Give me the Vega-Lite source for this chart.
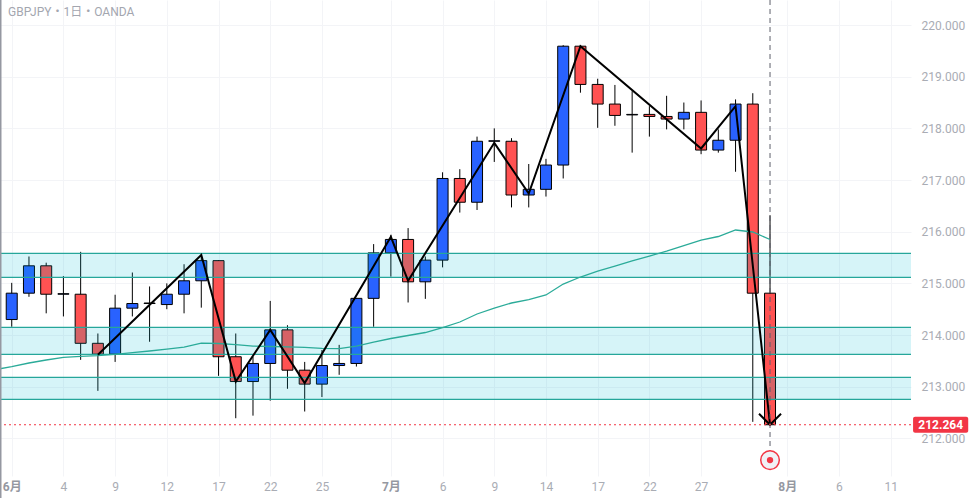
{
  "$schema": "https://vega.github.io/schema/vega-lite/v6.json",
  "width": 911,
  "height": 476,
  "autosize": {"type": "none"},
  "padding": {"left": 0, "top": 0, "right": 60, "bottom": 22},
  "background": "#ffffff",
  "title": {"text": "GBPJPY・1日・OANDA", "anchor": "start", "frame": "group", "orient": "top", "offset": -20, "dx": 8, "fontSize": 12, "fontWeight": "normal", "color": "#a3a6af", "font": "Roboto, Noto Sans CJK JP"},
  "config": {"view": {"stroke": null}, "font": "Roboto, Noto Sans CJK JP"},
  "datasets": {
    "candles": [
      {"i": 0, "o": 214.30, "h": 215.01, "l": 214.16, "c": 214.81},
      {"i": 1, "o": 214.81, "h": 215.52, "l": 214.74, "c": 215.34},
      {"i": 2, "o": 215.34, "h": 215.40, "l": 214.42, "c": 214.79},
      {"i": 3, "o": 214.79, "h": 215.14, "l": 214.36, "c": 214.80},
      {"i": 4, "o": 214.79, "h": 215.61, "l": 213.52, "c": 213.84},
      {"i": 5, "o": 213.84, "h": 214.03, "l": 212.92, "c": 213.63},
      {"i": 6, "o": 213.63, "h": 214.78, "l": 213.48, "c": 214.52},
      {"i": 7, "o": 214.52, "h": 215.21, "l": 214.36, "c": 214.61},
      {"i": 8, "o": 214.61, "h": 214.94, "l": 213.87, "c": 214.62},
      {"i": 9, "o": 214.59, "h": 215.00, "l": 214.50, "c": 214.79},
      {"i": 10, "o": 214.79, "h": 215.37, "l": 214.42, "c": 215.05},
      {"i": 11, "o": 215.05, "h": 215.55, "l": 214.53, "c": 215.44},
      {"i": 12, "o": 215.44, "h": 215.45, "l": 213.21, "c": 213.58},
      {"i": 13, "o": 213.58, "h": 214.03, "l": 212.39, "c": 213.10},
      {"i": 14, "o": 213.10, "h": 213.58, "l": 212.44, "c": 213.45},
      {"i": 15, "o": 213.45, "h": 214.66, "l": 212.73, "c": 214.10},
      {"i": 16, "o": 214.10, "h": 214.19, "l": 212.96, "c": 213.32},
      {"i": 17, "o": 213.32, "h": 213.48, "l": 212.52, "c": 213.05},
      {"i": 18, "o": 213.05, "h": 213.71, "l": 212.80, "c": 213.41},
      {"i": 19, "o": 213.41, "h": 213.81, "l": 213.23, "c": 213.45},
      {"i": 20, "o": 213.45, "h": 214.71, "l": 213.39, "c": 214.71},
      {"i": 21, "o": 214.71, "h": 215.76, "l": 214.16, "c": 215.59},
      {"i": 22, "o": 215.59, "h": 215.94, "l": 215.13, "c": 215.85},
      {"i": 23, "o": 215.85, "h": 216.07, "l": 214.63, "c": 215.03},
      {"i": 24, "o": 215.03, "h": 215.52, "l": 214.70, "c": 215.45},
      {"i": 25, "o": 215.45, "h": 217.15, "l": 215.31, "c": 217.03},
      {"i": 26, "o": 217.03, "h": 217.21, "l": 216.37, "c": 216.57},
      {"i": 27, "o": 216.57, "h": 217.84, "l": 216.42, "c": 217.75},
      {"i": 28, "o": 217.75, "h": 218.00, "l": 217.35, "c": 217.76},
      {"i": 29, "o": 217.75, "h": 217.81, "l": 216.47, "c": 216.71},
      {"i": 30, "o": 216.71, "h": 217.31, "l": 216.47, "c": 216.82},
      {"i": 31, "o": 216.82, "h": 217.41, "l": 216.68, "c": 217.29},
      {"i": 32, "o": 217.29, "h": 219.61, "l": 217.03, "c": 219.59},
      {"i": 33, "o": 219.59, "h": 219.60, "l": 218.69, "c": 218.85},
      {"i": 34, "o": 218.85, "h": 218.96, "l": 218.01, "c": 218.47},
      {"i": 35, "o": 218.47, "h": 218.84, "l": 218.05, "c": 218.25},
      {"i": 36, "o": 218.26, "h": 218.72, "l": 217.53, "c": 218.27},
      {"i": 37, "o": 218.27, "h": 218.43, "l": 217.84, "c": 218.23},
      {"i": 38, "o": 218.23, "h": 218.63, "l": 217.98, "c": 218.18},
      {"i": 39, "o": 218.18, "h": 218.50, "l": 217.98, "c": 218.31},
      {"i": 40, "o": 218.31, "h": 218.54, "l": 217.50, "c": 217.58},
      {"i": 41, "o": 217.58, "h": 217.98, "l": 217.53, "c": 217.77},
      {"i": 42, "o": 217.77, "h": 218.56, "l": 217.16, "c": 218.47},
      {"i": 43, "o": 218.47, "h": 218.68, "l": 212.32, "c": 214.81},
      {"i": 44, "o": 214.81, "h": 216.32, "l": 212.24, "c": 212.264}
    ],
    "ma": [
      {"i": -1, "v": 213.33},
      {"i": 0, "v": 213.387}, {"i": 1, "v": 213.459}, {"i": 2, "v": 213.517}, {"i": 3, "v": 213.569},
      {"i": 4, "v": 213.588}, {"i": 5, "v": 213.600}, {"i": 6, "v": 213.627}, {"i": 7, "v": 213.658},
      {"i": 8, "v": 213.691}, {"i": 9, "v": 213.729}, {"i": 10, "v": 213.768}, {"i": 11, "v": 213.845},
      {"i": 12, "v": 213.836}, {"i": 13, "v": 213.813}, {"i": 14, "v": 213.787}, {"i": 15, "v": 213.778},
      {"i": 16, "v": 213.772}, {"i": 17, "v": 213.762}, {"i": 18, "v": 213.743}, {"i": 19, "v": 213.739},
      {"i": 20, "v": 213.787}, {"i": 21, "v": 213.865}, {"i": 22, "v": 213.933}, {"i": 23, "v": 213.991},
      {"i": 24, "v": 214.049}, {"i": 25, "v": 214.145}, {"i": 26, "v": 214.252}, {"i": 27, "v": 214.407},
      {"i": 28, "v": 214.523}, {"i": 29, "v": 214.620}, {"i": 30, "v": 214.687}, {"i": 31, "v": 214.775},
      {"i": 32, "v": 214.987}, {"i": 33, "v": 215.123}, {"i": 34, "v": 215.239}, {"i": 35, "v": 215.336},
      {"i": 36, "v": 215.433}, {"i": 37, "v": 215.529}, {"i": 38, "v": 215.626}, {"i": 39, "v": 215.732},
      {"i": 40, "v": 215.839}, {"i": 41, "v": 215.907}, {"i": 42, "v": 216.033}, {"i": 43, "v": 215.994},
      {"i": 44, "v": 215.849}
    ],
    "zz": [
      {"i": 5, "v": 213.62}, {"i": 11, "v": 215.55}, {"i": 13, "v": 213.10}, {"i": 15, "v": 214.10},
      {"i": 17, "v": 213.07}, {"i": 22, "v": 215.90}, {"i": 23, "v": 215.05}, {"i": 28, "v": 217.72},
      {"i": 30, "v": 216.74}, {"i": 33, "v": 219.59}, {"i": 40, "v": 217.61}, {"i": 42, "v": 218.43},
      {"i": 44, "v": 212.264}
    ],
    "bands": [
      {"top": 215.582, "bot": 215.117},
      {"top": 214.149, "bot": 213.627},
      {"top": 213.182, "bot": 212.756}
    ],
    "one": [{}]
  },
  "layer": [
    {
      "data": {"name": "candles"},
      "mark": {"type": "rule", "color": "#000000", "strokeWidth": 1},
      "encoding": {
        "x": {"field": "i", "type": "quantitative", "scale": {"domain": [-0.68, 52.18], "nice": false, "zero": false, "padding": 0},
          "axis": {"values": [0, 3, 6, 9, 12, 15, 18, 22, 25, 28, 31, 34, 37, 40, 45, 48, 51],
            "labelExpr": "['6月','','','4','','','9','','','12','','','17','','','22','','','25','','','','7月','','','6','','','9','','','14','','','17','','','22','','','27','','','','','8月','','','6','','','11'][datum.value]",
            "title": null, "ticks": false, "tickSize": 0, "domain": false, "labelFlush": false, "labelOverlap": false,
            "labelPadding": 5, "labelColor": {"condition": {"test": "datum.value == 0 || datum.value == 22 || datum.value == 45", "value": "#9598a1"}, "value": "#a9acb4"},
            "labelFontSize": 12,
            "labelFontWeight": {"condition": {"test": "datum.value == 0 || datum.value == 22 || datum.value == 45", "value": "bold"}, "value": "normal"},
            "grid": true, "gridColor": "#f3f4f7"}},
        "y": {"field": "l", "type": "quantitative", "scale": {"domain": [211.272, 220.484], "nice": false, "zero": false, "padding": 0},
          "axis": {"orient": "right", "values": [212, 213, 214, 215, 216, 217, 218, 219, 220], "format": ".3f", "title": null,
            "ticks": false, "tickSize": 0, "domain": false, "labelPadding": 10, "labelColor": "#a9acb4", "labelFontSize": 12,
            "labelAlign": "left", "grid": true, "gridColor": "#f3f4f7"}},
        "y2": {"field": "h"}
      }
    },
    {
      "data": {"name": "candles"},
      "mark": {"type": "bar", "size": 11, "stroke": "#000000", "strokeWidth": 1},
      "encoding": {
        "x": {"field": "i", "type": "quantitative"},
        "y": {"field": "o", "type": "quantitative"},
        "y2": {"field": "c"},
        "color": {"condition": {"test": "datum.c >= datum.o", "value": "#2962ff"}, "value": "#ff5252"}
      }
    },
    {
      "data": {"name": "bands"},
      "mark": {"type": "rect", "color": "#00bcd4", "opacity": 0.16},
      "encoding": {
        "y": {"field": "top", "type": "quantitative"},
        "y2": {"field": "bot"}
      }
    },
    {
      "data": {"name": "bands"},
      "mark": {"type": "rule", "color": "#26a69a", "strokeWidth": 1.3},
      "encoding": {"y": {"field": "top", "type": "quantitative"}}
    },
    {
      "data": {"name": "bands"},
      "mark": {"type": "rule", "color": "#26a69a", "strokeWidth": 1.3},
      "encoding": {"y": {"field": "bot", "type": "quantitative"}}
    },
    {
      "data": {"name": "ma"},
      "mark": {"type": "line", "color": "#2bab99", "strokeWidth": 1.3, "clip": true},
      "encoding": {
        "x": {"field": "i", "type": "quantitative"},
        "y": {"field": "v", "type": "quantitative"}
      }
    },
    {
      "data": {"name": "zz"},
      "mark": {"type": "line", "color": "#000000", "strokeWidth": 2},
      "encoding": {
        "x": {"field": "i", "type": "quantitative"},
        "y": {"field": "v", "type": "quantitative"}
      }
    },
    {
      "data": {"values": [{"i": 44, "v": 212.264}]},
      "mark": {"type": "point", "shape": "M-1,-1L0,0L1,-1", "filled": false, "stroke": "#000000", "strokeWidth": 2, "size": 484, "opacity": 1},
      "encoding": {
        "x": {"field": "i", "type": "quantitative"},
        "y": {"field": "v", "type": "quantitative"}
      }
    },
    {
      "data": {"name": "one"},
      "mark": {"type": "rule", "color": "#5d606b", "strokeWidth": 1, "strokeDash": [5, 4]},
      "encoding": {
        "x": {"datum": 44, "type": "quantitative"},
        "y": {"datum": 220.484, "type": "quantitative"},
        "y2": {"datum": 211.6}
      }
    },
    {
      "data": {"name": "one"},
      "mark": {"type": "rule", "color": "#f23645", "strokeWidth": 1, "strokeDash": [2, 3]},
      "encoding": {"y": {"datum": 212.264, "type": "quantitative"}}
    },
    {
      "data": {"name": "one"},
      "mark": {"type": "point", "shape": "circle", "filled": true, "fill": "#f1f1f6", "stroke": "#f23645", "strokeWidth": 1.5, "size": 346, "opacity": 1},
      "encoding": {
        "x": {"datum": 44, "type": "quantitative"},
        "y": {"datum": 211.58, "type": "quantitative"}
      }
    },
    {
      "data": {"name": "one"},
      "mark": {"type": "point", "shape": "circle", "filled": true, "color": "#f23645", "size": 40, "opacity": 1},
      "encoding": {
        "x": {"datum": 44, "type": "quantitative"},
        "y": {"datum": 211.58, "type": "quantitative"}
      }
    },
    {
      "data": {"name": "one"},
      "mark": {"type": "rule", "color": "#9598a1", "strokeWidth": 3},
      "encoding": {
        "x": {"datum": -0.68, "type": "quantitative"},
        "y": {"datum": 220.484, "type": "quantitative"},
        "y2": {"datum": 210.8}
      }
    },
    {
      "data": {"name": "one"},
      "mark": {"type": "rect", "color": "#f23645", "cornerRadius": 2},
      "encoding": {
        "x": {"datum": 52.3, "type": "quantitative"},
        "x2": {"datum": 55.5},
        "y": {"datum": 212.419, "type": "quantitative"},
        "y2": {"datum": 212.109}
      }
    },
    {
      "data": {"name": "one"},
      "mark": {"type": "text", "color": "#ffffff", "fontSize": 12, "fontWeight": "bold", "align": "center", "baseline": "middle"},
      "encoding": {
        "x": {"datum": 53.9, "type": "quantitative"},
        "y": {"datum": 212.264, "type": "quantitative"},
        "text": {"value": "212.264"}
      }
    }
  ]
}
